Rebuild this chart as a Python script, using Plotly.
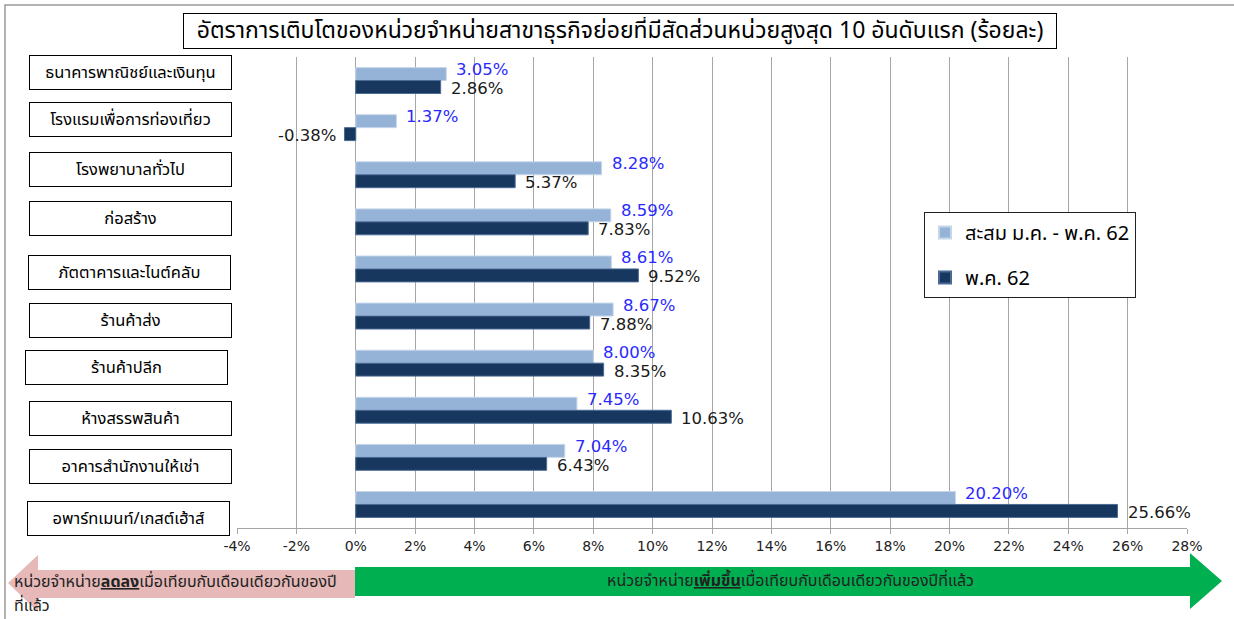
import plotly.graph_objects as go

# ---------------- data ----------------
categories = [
    "ธนาคารพาณิชย์และเงินทุน",
    "โรงแรมเพื่อการท่องเที่ยว",
    "โรงพยาบาลทั่วไป",
    "ก่อสร้าง",
    "ภัตตาคารและไนต์คลับ",
    "ร้านค้าส่ง",
    "ร้านค้าปลีก",
    "ห้างสรรพสินค้า",
    "อาคารสำนักงานให้เช่า",
    "อพาร์ทเมนท์/เกสต์เฮ้าส์",
]
cumulative_jan_may_62 = [3.05, 1.37, 8.28, 8.59, 8.61, 8.67, 8.00, 7.45, 7.04, 20.20]
may_62 = [2.86, -0.38, 5.37, 7.83, 9.52, 7.88, 8.35, 10.63, 6.43, 25.66]
series_names = ["สะสม ม.ค. - พ.ค. 62", "พ.ค. 62"]
tick_values = list(range(-4, 30, 2))
tick_labels = [f"{v}%" for v in tick_values]

title_text = "อัตราการเติบโตของหน่วยจำหน่ายสาขาธุรกิจย่อยที่มีสัดส่วนหน่วยสูงสุด 10 อันดับแรก (ร้อยละ)"
down_text = "หน่วยจำหน่าย<b><u>ลดลง</u></b>เมื่อเทียบกับเดือนเดียวกันของปี"
down_text2 = "ที่แล้ว"
up_text = "หน่วยจำหน่าย<b><u>เพิ่มขึ้น</u></b>เมื่อเทียบกับเดือนเดียวกันของปีที่แล้ว"

# ---------------- layout constants (pixels) ----------------
W, H = 1234, 619
PL, PR, PT, PB = 237, 1187, 57, 528
pw, ph = PR - PL, PB - PT


def px(xp):
    return (xp - PL) / pw


def py(yp):
    return (PB - yp) / ph


THAI = "Tahoma, 'Noto Sans Thai', 'Noto Sans Thai UI', 'Noto Sans', sans-serif"
NUM = "Verdana, 'DejaVu Sans', sans-serif"

fig = go.Figure()
fig.add_trace(go.Bar(
    y=categories, x=cumulative_jan_may_62, orientation="h", name=series_names[0],
    marker=dict(color="#95b3d7", line=dict(color="#c6d6ea", width=1)),
    legendgroup="a", hoverinfo="x+y",
))
fig.add_trace(go.Bar(
    y=categories, x=may_62, orientation="h", name=series_names[1],
    marker=dict(color="#17375e", line=dict(color="#4a6a96", width=1)),
    legendgroup="b", hoverinfo="x+y",
))

shapes = []
# outer chart frame
shapes.append(dict(type="rect", xref="paper", yref="paper",
                   x0=px(5), x1=px(1240), y0=py(5), y1=py(640),
                   line=dict(color="#9a9a9a", width=1.5), layer="below"))
# pink left arrow
pk = [(355, 570), (38, 570), (38, 555), (8, 583), (38, 612), (38, 598), (355, 598)]
shapes.append(dict(type="path", xref="paper", yref="paper",
                   path="M " + " L ".join(f"{px(a)},{py(b)}" for a, b in pk) + " Z",
                   fillcolor="#e6b9b8", line=dict(width=0), layer="below"))
# green right arrow
gr = [(355, 567), (1190, 567), (1190, 553), (1222, 581), (1190, 609), (1190, 596), (355, 596)]
shapes.append(dict(type="path", xref="paper", yref="paper",
                   path="M " + " L ".join(f"{px(a)},{py(b)}" for a, b in gr) + " Z",
                   fillcolor="#00b050", line=dict(width=0), layer="below"))

annotations = []
# value labels (from the data arrays)
for series, color, yshift in ((cumulative_jan_may_62, "#2a2aff", 11), (may_62, "#1a1a1a", -8)):
    for cat, v in zip(categories, series):
        annotations.append(dict(
            text=f"{v:.2f}%", xref="x", yref="y", x=v, y=cat,
            xanchor="left" if v >= 0 else "right", yanchor="middle",
            xshift=8 if v >= 0 else -6, yshift=yshift, showarrow=False,
            font=dict(family=NUM, size=16.5, color=color),
        ))

annotations.append(dict(
    text=title_text, xref="paper", yref="paper", x=px(620), y=py(31),
    showarrow=False, font=dict(family=THAI, size=23, color="#000"),
    bordercolor="#000", borderwidth=1, bgcolor="#fff", borderpad=3,
    width=866, height=28, xanchor="center", yanchor="middle",
))
box_y = [72, 120, 170, 218, 272, 320, 367, 418, 466, 518]
box_x = [130, 130, 130, 130, 129, 130, 126, 130, 130, 128]
for cat, bx, by in zip(categories, box_x, box_y):
    annotations.append(dict(
        text=cat, xref="paper", yref="paper", x=px(bx), y=py(by),
        showarrow=False, font=dict(family=THAI, size=16.5, color="#000"),
        bordercolor="#000", borderwidth=1, bgcolor="#fff", borderpad=1,
        width=199, height=31, xanchor="center", yanchor="middle",
    ))
annotations.append(dict(text=down_text, xref="paper", yref="paper", x=px(12), y=py(582),
                        showarrow=False, xanchor="left", yanchor="middle",
                        font=dict(family=THAI, size=16, color="#222")))
annotations.append(dict(text=down_text2, xref="paper", yref="paper", x=px(12), y=py(606),
                        showarrow=False, xanchor="left", yanchor="middle",
                        font=dict(family=THAI, size=16, color="#222")))
annotations.append(dict(text=up_text, xref="paper", yref="paper", x=px(790), y=py(581),
                        showarrow=False, xanchor="center", yanchor="middle",
                        font=dict(family=THAI, size=16, color="#222")))

fig.update_layout(
    width=W, height=H, autosize=False,
    margin=dict(l=PL, r=W - PR, t=PT, b=H - PB, pad=0),
    paper_bgcolor="#fff", plot_bgcolor="#fff",
    barmode="group", bargap=0.45, bargroupgap=0,
    showlegend=True,
    legend=dict(x=px(924), y=py(212), xanchor="left", yanchor="top",
                bgcolor="#fff", bordercolor="#222", borderwidth=1,
                font=dict(family=THAI, size=20, color="#000"),
                tracegroupgap=16, traceorder="grouped",
                itemwidth=30, itemsizing="constant"),
    shapes=shapes, annotations=annotations,
    xaxis=dict(range=[-4, 28], tickvals=tick_values, ticktext=tick_labels,
               showgrid=True, gridcolor="#a6a6a6", gridwidth=1,
               zeroline=True, zerolinecolor="#a6a6a6", zerolinewidth=1,
               showline=True, linecolor="#a6a6a6", linewidth=1,
               ticks="outside", ticklen=5, tickcolor="#a6a6a6",
               tickfont=dict(family=NUM, size=14, color="#222"), fixedrange=True),
    yaxis=dict(autorange="reversed", showticklabels=False, showgrid=False,
               showline=False, ticks="", fixedrange=True),
)

fig.write_html("out.html", config={"displayModeBar": False},
               post_script="document.body.style.margin='0';document.body.style.overflow='hidden';")
